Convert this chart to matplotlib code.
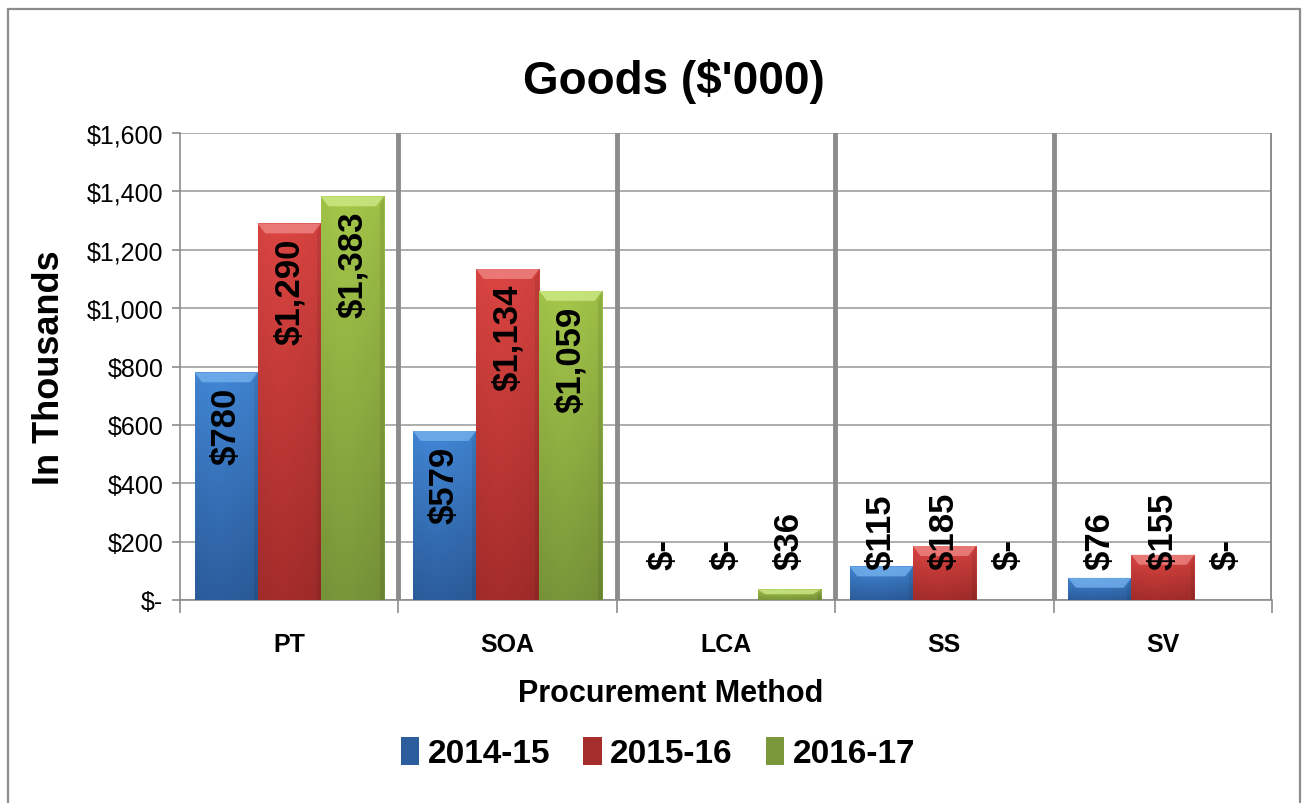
import numpy as np
import matplotlib
matplotlib.use('Agg')
import matplotlib.pyplot as plt
from matplotlib.patches import Rectangle, Polygon
from matplotlib.colors import to_rgb

# data
methods = ['PT', 'SOA', 'LCA', 'SS', 'SV']
years = ['2014-15', '2015-16', '2016-17']
goods_1415 = [780, 579, 0, 115, 76]
goods_1516 = [1290, 1134, 0, 185, 155]
goods_1617 = [1383, 1059, 36, 0, 0]
y_ticks = [0, 200, 400, 600, 800, 1000, 1200, 1400, 1600]

series = [goods_1415, goods_1516, goods_1617]
# (top colour, bottom colour, bevel colour)
colours = [('#4287d6', '#2c5e9e', '#78b4f0'),
           ('#dc4542', '#a52d2b', '#f08a88'),
           ('#a5c84a', '#7a973a', '#d2ec8c')]

plt.rcParams['font.family'] = ['Liberation Sans', 'DejaVu Sans']

fig = plt.figure(figsize=(13.02, 8.04), dpi=100)
ax = fig.add_axes([180 / 1302, 1 - 601 / 804, (1272 - 180) / 1302, (601 - 134) / 804])

# chart border
fig.patches.append(Rectangle((8 / 1302, -0.01), 1292 / 1302, 1 - 10 / 804 + 0.01,
                             transform=fig.transFigure, fill=False,
                             edgecolor='#8c8c8c', lw=1.6, zorder=0))

x = np.arange(len(methods))
w = 0.289
offsets = [-w, 0, w]


def fmt(v):
    return '$-' if v == 0 else '${:,}'.format(v)


for vals, off, (ctop, cbot, cbev), name in zip(series, offsets, colours, years):
    bars = ax.bar(x + off, vals, width=w, color=cbot, edgecolor='none',
                  label=name, zorder=3)
    for rect, v in zip(bars, vals):
        if v <= 0:
            continue
        bx, bw, bh = rect.get_x(), rect.get_width(), rect.get_height()
        # vertical gradient fill, clipped to the bar
        t = np.linspace(0, 1, 64)[:, None]
        c0, c1 = np.array(to_rgb(ctop)), np.array(to_rgb(cbot))
        grad = (c0 * (1 - t) + c1 * t)[:, None, :] * np.ones((1, 8, 1))
        xs = np.linspace(0, 1, 8)
        shade = 1 - 0.08 * np.abs(xs - 0.35)
        grad = np.clip(grad * shade[None, :, None], 0, 1)
        im = ax.imshow(grad, extent=(bx, bx + bw, 0, bh), aspect='auto',
                       origin='upper', zorder=4, interpolation='bilinear')
        im.set_clip_path(rect)
        # bevel at the top
        bev = min(34, bh * 0.45)
        dx = min(0.035, bw * 0.2)
        poly = Polygon([(bx, bh), (bx + bw, bh), (bx + bw - dx, bh - bev),
                        (bx + dx, bh - bev)], closed=True, facecolor=cbev,
                       edgecolor='none', alpha=0.75, zorder=5)
        ax.add_patch(poly)
        side = Polygon([(bx + bw, bh), (bx + bw, 0), (bx + bw - dx * 0.5, 0),
                        (bx + bw - dx * 0.5, bh - bev)], closed=True,
                       facecolor='black', alpha=0.08, edgecolor='none', zorder=5)
        ax.add_patch(side)
    for xi, v in zip(x + off, vals):
        if v >= 500:
            ax.text(xi, v - 50, fmt(v), rotation=90, ha='center', va='top',
                    fontsize=25, fontweight='bold', zorder=6)
        else:
            ax.text(xi, 105, fmt(v), rotation=90, ha='center', va='bottom',
                    fontsize=25, fontweight='bold', zorder=6)

ax.set_xlim(-0.5, len(methods) - 0.5)
ax.set_ylim(0, 1600)
ax.set_yticks(y_ticks)
ax.set_yticklabels([fmt(v) for v in y_ticks], fontsize=18)
ax.yaxis.grid(True, color='#a0a0a0', lw=1.2, zorder=1)
ax.set_axisbelow(True)

# category separators
for b in np.arange(0.5, len(methods), 1.0):
    ax.axvline(b, color='#8c8c8c', lw=3.5, zorder=2)

ax.set_xticks(x)
ax.set_xticklabels(methods, fontsize=18, fontweight='bold')
ax.set_xticks(np.arange(-0.5, len(methods), 1.0), minor=True)
ax.tick_params(axis='x', which='major', length=0, pad=23)
ax.tick_params(axis='x', which='minor', length=9, color='#8c8c8c', width=1.2)
ax.tick_params(axis='y', length=6, color='#8c8c8c', width=1.2, pad=6)

for s in ['top', 'right']:
    ax.spines[s].set_visible(False)
ax.spines['left'].set_color('#8c8c8c')
ax.spines['left'].set_linewidth(1.2)
ax.spines['bottom'].set_color('#8c8c8c')
ax.spines['bottom'].set_linewidth(1.2)

ax.set_ylabel('In Thousands', fontsize=26, fontweight='bold', labelpad=14)

fig.text(674 / 1302, 1 - 82 / 804, "Goods ($'000)", ha='center', va='center',
         fontsize=33, fontweight='bold')
fig.text(671 / 1302, 1 - 694 / 804, 'Procurement Method', ha='center', va='center',
         fontsize=22, fontweight='bold')

handles, labels = ax.get_legend_handles_labels()
fig.legend(handles, labels, loc='center', bbox_to_anchor=(658 / 1302, 1 - 754 / 804),
           ncol=3, frameon=False, handlelength=0.55, handleheight=0.95,
           handletextpad=0.25, columnspacing=1.0,
           prop={'weight': 'bold', 'size': 24})

fig.savefig('out.png', dpi=100)
